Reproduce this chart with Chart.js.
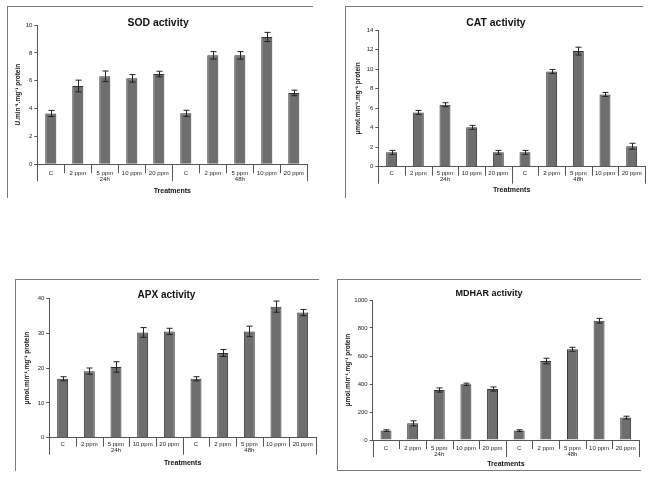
<!DOCTYPE html>
<html>
<head>
<meta charset="utf-8">
<script src="https://cdn.jsdelivr.net/npm/chart.js@4"></script>
<style>
  body { margin: 0; background: #fff; width: 659px; height: 482px; overflow: hidden; position: relative; }
  canvas { position: absolute; }
  .frame { position: absolute; border-color: #7a7a7a; border-style: solid; border-width: 0; }
</style>
</head>
<body>
<div class="frame" style="left:7px;top:6px;width:305px;height:191px;border-top-width:1px;border-left-width:1px;"></div>
<div class="frame" style="left:345px;top:6px;width:297px;height:191px;border-top-width:1px;border-left-width:1px;"></div>
<div class="frame" style="left:15px;top:279px;width:303px;height:191px;border-top-width:1px;border-left-width:1px;"></div>
<div class="frame" style="left:337px;top:279px;width:303px;height:190px;border-top-width:1px;border-left-width:1px;border-bottom-width:1px;"></div>

<canvas id="sodChart" width="313" height="194" style="left:7px;top:6px;"></canvas>
<canvas id="catChart" width="314" height="194" style="left:345px;top:6px;"></canvas>
<canvas id="apxChart" width="315" height="196" style="left:15px;top:279px;"></canvas>
<canvas id="mdharChart" width="322" height="190" style="left:337px;top:279px;"></canvas>

<script>
// treatments, same for all four charts
const categories = ['C', '2 ppm', ['5 ppm', '24h'], '10 ppm', '20 ppm', 'C', '2 ppm', ['5 ppm', '48h'], '10 ppm', '20 ppm'];

const sodValues = [3.65, 5.62, 6.32, 6.17, 6.48, 3.66, 7.82, 7.82, 9.14, 5.12];
const sodErrors = [0.22, 0.42, 0.38, 0.27, 0.2, 0.22, 0.27, 0.27, 0.33, 0.2];

const catValues = [1.47, 5.56, 6.35, 4.03, 1.47, 1.47, 9.76, 11.84, 7.4, 2.1];
const catErrors = [0.2, 0.2, 0.2, 0.2, 0.2, 0.2, 0.2, 0.4, 0.2, 0.3];

const apxValues = [16.9, 19.1, 20.3, 30.2, 30.5, 16.9, 24.3, 30.5, 37.6, 35.9];
const apxErrors = [0.6, 0.9, 1.5, 1.4, 0.9, 0.6, 1.0, 1.5, 1.6, 0.9];

const mdharValues = [67, 119, 357, 398, 364, 67, 564, 648, 852, 160];
const mdharErrors = [6, 18, 15, 8, 15, 6, 20, 14, 17, 10];

const FONT = "'Liberation Sans', Arial, sans-serif";

//error bars + the separator lines under the category axis
const extrasPlugin = {
    id: 'extras',
    afterDatasetsDraw(chart) {
        const errs = chart.options.plugins.extras.errors;
        const meta = chart.getDatasetMeta(0);
        const y = chart.scales.y;
        const ctx = chart.ctx;
        const vals = chart.data.datasets[0].data;
        ctx.save();
        ctx.strokeStyle = '#222';
        ctx.lineWidth = 1;
        meta.data.forEach((bar, i) => {
            const top = y.getPixelForValue(vals[i] + errs[i]);
            const bot = y.getPixelForValue(vals[i] - errs[i]);
            const x = Math.round(bar.x) + 0.5;
            ctx.beginPath();
            ctx.moveTo(x, top); ctx.lineTo(x, bot);
            ctx.moveTo(x - 3, top); ctx.lineTo(x + 3, top);
            ctx.moveTo(x - 3, bot); ctx.lineTo(x + 3, bot);
            ctx.stroke();
        });
        ctx.restore();
    },
    afterDraw(chart) {
        const opts = chart.options.plugins.extras;
        const x = chart.scales.x;
        const base = chart.chartArea.bottom;
        const ctx = chart.ctx;
        ctx.save();
        ctx.strokeStyle = '#555';
        ctx.lineWidth = 1;
        for (let i = 0; i <= categories.length; i++) {
            const px = Math.round(x.getPixelForValue(i - 0.5)) + 0.5;
            const len = (i % 5 === 0) ? opts.longTick : opts.shortTick;
            ctx.beginPath();
            ctx.moveTo(px, base);
            ctx.lineTo(px, base + len);
            ctx.stroke();
        }
        ctx.restore();
    }
};

function makeChart(id, values, errors, o) {
    const ctx = document.getElementById(id).getContext('2d');
    return new Chart(ctx, {
        type: 'bar',
        data: {
            labels: categories,
            datasets: [{
                data: values,
                backgroundColor: '#6e6e6e',
                borderColor: '#333',
                borderWidth: 1,
                barPercentage: 0.41,
                categoryPercentage: 1
            }]
        },
        options: {
            responsive: false,
            animation: false,
            layout: { autoPadding: false, padding: { left: 2, right: o.padRight, top: 0, bottom: 0 } },
            plugins: {
                legend: { display: false },
                tooltip: { enabled: false },
                title: {
                    display: true,
                    text: o.title,
                    color: '#111',
                    font: { family: FONT, size: o.titleSize, weight: 'bold', lineHeight: 4 / o.titleSize },
                    padding: { top: o.titleTop, bottom: o.titleBottom }
                },
                extras: { errors: errors, shortTick: 9, longTick: 17 }
            },
            scales: {
                x: {
                    grid: { display: false, drawTicks: false },
                    border: { color: '#555' },
                    ticks: {
                        color: '#222', padding: o.xTickPad, maxRotation: 0, autoSkip: false,
                        font: { family: FONT, size: 6, lineHeight: 1 }
                    },
                    title: {
                        display: true, text: 'Treatments', color: '#111',
                        font: { family: FONT, size: 7, weight: 'bold', lineHeight: 1.2 },
                        padding: { top: 0, bottom: o.xTitlePad }
                    },
                    afterFit: s => { s.height = o.xHeight; }
                },
                y: {
                    min: 0,
                    max: o.yMax,
                    ticks: {
                        stepSize: o.yStep, color: '#222', padding: 2,
                        font: { family: FONT, size: 6 },
                        callback: v => String(v)
                    },
                    grid: { drawOnChartArea: false, tickLength: 3, color: '#555' },
                    border: { color: '#555' },
                    title: {
                        display: true, text: o.yTitle, color: '#111',
                        font: { family: FONT, size: 6.5, weight: 'bold', lineHeight: 1.2 },
                        padding: { top: o.yTitlePad, bottom: 0 }
                    },
                    afterFit: s => { s.width = o.yWidth; }
                }
            }
        },
        plugins: [extrasPlugin]
    });
}

document.addEventListener('DOMContentLoaded', () => {
    makeChart('sodChart', sodValues, sodErrors, {
        title: 'SOD activity', titleSize: 10.4, titleTop: 15, titleBottom: 0,
        padRight: 12.7, yWidth: 28.3, yTitlePad: 5.1, xHeight: 35.7, xTitlePad: 4.8, xTickPad: 6,
        yMax: 10, yStep: 2, yTitle: 'U.min⁻¹.mg⁻¹ protein'
    });
    makeChart('catChart', catValues, catErrors, {
        title: 'CAT activity', titleSize: 10.4, titleTop: 15, titleBottom: 5,
        padRight: 14, yWidth: 31.3, yTitlePad: 7.1, xHeight: 33.3, xTitlePad: 5.8, xTickPad: 3.6,
        yMax: 14, yStep: 2, yTitle: 'µmol.min⁻¹.mg⁻¹ protein'
    });
    makeChart('apxChart', apxValues, apxErrors, {
        title: 'APX activity', titleSize: 10, titleTop: 14, titleBottom: 1.3,
        padRight: 14, yWidth: 32.3, yTitlePad: 6.1, xHeight: 37.3, xTitlePad: 8.1, xTickPad: 3.3,
        yMax: 40, yStep: 10, yTitle: 'µmol.min⁻¹.mg⁻¹ protein'
    });
    makeChart('mdharChart', mdharValues, mdharErrors, {
        title: 'MDHAR activity', titleSize: 9, titleTop: 13, titleBottom: 4,
        padRight: 20, yWidth: 33.7, yTitlePad: 5.1, xHeight: 29, xTitlePad: 0.8, xTickPad: 5.3,
        yMax: 1000, yStep: 200, yTitle: 'µmol.min⁻¹.mg⁻¹ protein'
    });
});
</script>
</body>
</html>
